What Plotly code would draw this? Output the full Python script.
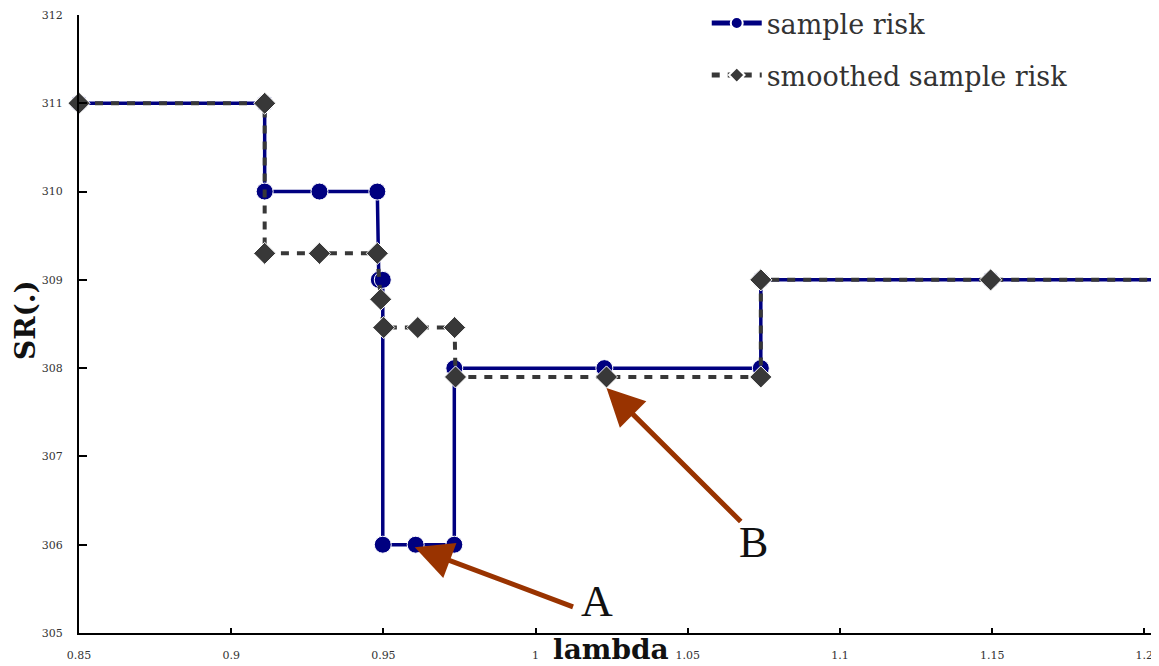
import plotly.graph_objects as go

# ---- data ----
lam_sample = [0.85, 0.911, 0.911, 0.929, 0.948, 0.9485, 0.9498, 0.9498, 0.9606, 0.9733, 0.9733,
              1.0226, 1.074, 1.074, 1.1495, 1.2035]
sr_sample = [311, 311, 310, 310, 310, 309, 309, 306, 306, 306, 308,
             308, 308, 309, 309, 309]

lam_smooth = [0.85, 0.911, 0.911, 0.929, 0.948, 0.9491, 0.9501, 0.9613, 0.9734, 0.9737,
              1.0233, 1.074, 1.074, 1.1495, 1.2035]
sr_smooth = [311, 311, 309.3, 309.3, 309.3, 308.78, 308.46, 308.46, 308.46, 307.9,
             307.9, 307.9, 309, 309, 309]

x_tickvals = [0.85, 0.9, 0.95, 1.0, 1.05, 1.1, 1.15, 1.2]
x_ticktext = ["0.85", "0.9", "0.95", "1", "1.05", "1.1", "1.15", "1.2"]
y_tickvals = [305, 306, 307, 308, 309, 310, 311, 312]
y_ticktext = ["305", "306", "307", "308", "309", "310", "311", "312"]

# annotation anchors (data units)
arrow_A = dict(head=(0.9603, 305.97), tail=(1.0128, 305.29), label=(1.0203, 305.36))
arrow_B = dict(head=(1.0233, 307.775), tail=(1.0679, 306.246), label=(1.0715, 306.02))

BLUE = "#000080"
GREY = "#383838"
BROWN = "#993300"
SERIF = "DejaVu Serif"

fig = go.Figure()

fig.add_trace(go.Scatter(
    x=lam_sample, y=sr_sample, mode="lines+markers", name="sample risk",
    legendgroup="a",
    line=dict(color=BLUE, width=3.5),
    marker=dict(symbol="circle", color=BLUE, opacity=1,
                size=[17] * (len(lam_sample) - 1) + [0]),
    cliponaxis=False,
))
fig.add_trace(go.Scatter(
    x=lam_smooth, y=sr_smooth, mode="lines+markers", name="smoothed sample risk",
    legendgroup="b",
    line=dict(color=GREY, width=4, dash="8px,8px"),
    marker=dict(symbol="diamond", color=GREY, opacity=1,
                size=[17] * (len(lam_smooth) - 1) + [0]),
    cliponaxis=False,
))

annotations = []
for arr, lab in ((arrow_A, "A"), (arrow_B, "B")):
    annotations.append(dict(
        x=arr["head"][0], y=arr["head"][1], xref="x", yref="y",
        ax=arr["tail"][0], ay=arr["tail"][1], axref="x", ayref="y",
        text="", showarrow=True, arrowhead=2, arrowsize=1.5, arrowwidth=5,
        arrowcolor=BROWN, standoff=0, startstandoff=0,
    ))
    annotations.append(dict(
        x=arr["label"][0], y=arr["label"][1], xref="x", yref="y",
        text=lab, showarrow=False, xanchor="center", yanchor="middle",
        font=dict(family="Liberation Serif", size=44, color="#111111"),
    ))

annotations.append(dict(
    x=-0.0493, y=0.5065, xref="paper", yref="paper", text="<b>SR(.)</b>",
    textangle=-90, showarrow=False, xanchor="center", yanchor="middle",
    font=dict(family=SERIF, size=28, color="#111111"),
))
annotations.append(dict(
    x=0.4944, y=-0.0275, xref="paper", yref="paper", text="<b>lambda</b>",
    showarrow=False, xanchor="center", yanchor="middle",
    font=dict(family=SERIF, size=28, color="#111111"),
))

# the page body adds an 8px offset, so the figure is 8px smaller on each axis
fig.update_layout(
    width=1151, height=658,
    margin=dict(l=71, r=4, t=7, b=33, autoexpand=False),
    plot_bgcolor="white", paper_bgcolor="white",
    showlegend=True,
    legend=dict(
        x=0.5834, y=1.026, xanchor="left", yanchor="top",
        font=dict(family=SERIF, size=27, color="#333333"),
        bgcolor="rgba(0,0,0,0)", itemsizing="constant", itemwidth=50,
        tracegroupgap=14,
    ),
    annotations=annotations,
)
fig.update_xaxes(
    range=[0.85, 1.2035], tickvals=x_tickvals, ticktext=x_ticktext,
    showline=True, linecolor="black", linewidth=2, mirror=False,
    ticks="inside", ticklen=5, tickwidth=2, tickcolor="black",
    showgrid=False, zeroline=False, ticklabelstandoff=11, automargin=False,
    tickfont=dict(family=SERIF, size=11, color="#333333"),
)
fig.update_yaxes(
    range=[305, 312], tickvals=y_tickvals, ticktext=y_ticktext,
    showline=True, linecolor="black", linewidth=2, mirror=False,
    ticks="inside", ticklen=8, tickwidth=2, tickcolor="black",
    showgrid=False, zeroline=False, ticklabelstandoff=12, automargin=False,
    tickfont=dict(family=SERIF, size=11, color="#333333"),
)

fig.write_html("out.html")
